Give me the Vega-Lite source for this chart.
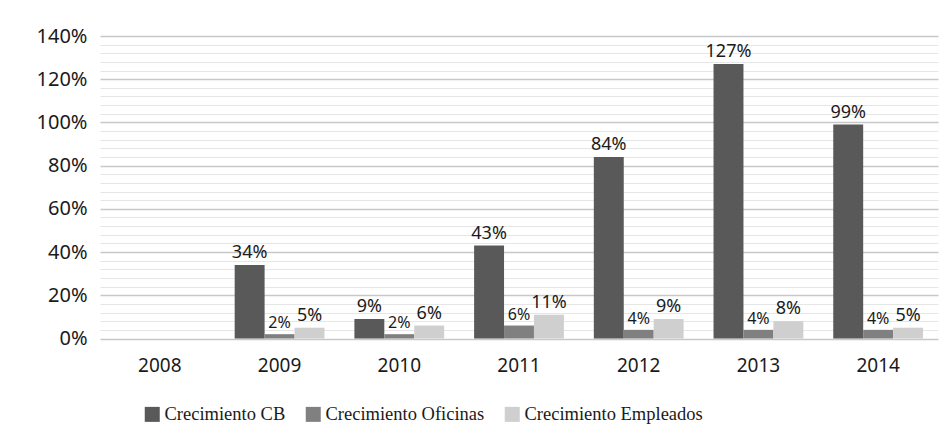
{
  "$schema": "https://vega.github.io/schema/vega-lite/v6.json",
  "width": 838,
  "height": 302.5,
  "autosize": {"type": "none"},
  "padding": {"left": 100, "top": 36, "right": 13, "bottom": 109.5},
  "background": "white",
  "config": {"view": {"stroke": null}},
  "data": {
    "values": [
      {"year": "2009", "serie": "Crecimiento CB", "value": 0.34},
      {"year": "2009", "serie": "Crecimiento Oficinas", "value": 0.02},
      {"year": "2009", "serie": "Crecimiento Empleados", "value": 0.05},
      {"year": "2010", "serie": "Crecimiento CB", "value": 0.09},
      {"year": "2010", "serie": "Crecimiento Oficinas", "value": 0.02},
      {"year": "2010", "serie": "Crecimiento Empleados", "value": 0.06},
      {"year": "2011", "serie": "Crecimiento CB", "value": 0.43},
      {"year": "2011", "serie": "Crecimiento Oficinas", "value": 0.06},
      {"year": "2011", "serie": "Crecimiento Empleados", "value": 0.11},
      {"year": "2012", "serie": "Crecimiento CB", "value": 0.84},
      {"year": "2012", "serie": "Crecimiento Oficinas", "value": 0.04},
      {"year": "2012", "serie": "Crecimiento Empleados", "value": 0.09},
      {"year": "2013", "serie": "Crecimiento CB", "value": 1.27},
      {"year": "2013", "serie": "Crecimiento Oficinas", "value": 0.04},
      {"year": "2013", "serie": "Crecimiento Empleados", "value": 0.08},
      {"year": "2014", "serie": "Crecimiento CB", "value": 0.99},
      {"year": "2014", "serie": "Crecimiento Oficinas", "value": 0.04},
      {"year": "2014", "serie": "Crecimiento Empleados", "value": 0.05}
    ]
  },
  "encoding": {
    "x": {
      "field": "year",
      "type": "nominal",
      "scale": {
        "domain": ["2008", "2009", "2010", "2011", "2012", "2013", "2014"],
        "paddingInner": 0.25,
        "paddingOuter": 0.125
      },
      "axis": {
        "title": null,
        "labelAngle": 0,
        "domain": false,
        "ticks": false,
        "labelPadding": 18,
        "labelFont": "Noto Sans",
        "labelFontSize": 19,
        "labelColor": "#1a1a1a"
      }
    },
    "xOffset": {
      "field": "serie",
      "type": "nominal",
      "scale": {
        "domain": ["Crecimiento CB", "Crecimiento Oficinas", "Crecimiento Empleados"],
        "paddingInner": 0,
        "paddingOuter": 0
      }
    },
    "y": {
      "field": "value",
      "type": "quantitative",
      "scale": {"domain": [0, 1.4], "nice": false}
    }
  },
  "layer": [
    {
      "mark": {"type": "bar"},
      "encoding": {
        "y": {
          "field": "value",
          "type": "quantitative",
          "scale": {"domain": [0, 1.4], "nice": false},
          "axis": {
            "title": null,
            "orient": "left",
            "values": [0, 0.2, 0.4, 0.6, 0.8, 1.0, 1.2, 1.4],
            "format": ".0%",
            "domain": false,
            "ticks": false,
            "labelPadding": 13,
            "labelFont": "Noto Sans",
            "labelFontSize": 20,
            "labelColor": "#1a1a1a",
            "grid": true,
            "gridColor": "#c8c8c8",
            "gridWidth": 1.5
          }
        },
        "color": {
          "field": "serie",
          "type": "nominal",
          "scale": {
            "domain": ["Crecimiento CB", "Crecimiento Oficinas", "Crecimiento Empleados"],
            "range": ["#595959", "#808080", "#cfcfcf"]
          },
          "legend": {
            "title": null,
            "orient": "none",
            "legendX": 43,
            "legendY": 369,
            "direction": "horizontal",
            "symbolType": "square",
            "symbolSize": 225,
            "symbolStrokeWidth": 0,
            "labelFont": "Liberation Serif",
            "labelFontSize": 18.5,
            "labelLimit": 0,
            "labelColor": "#1a1a1a",
            "labelOffset": 3,
            "columnPadding": 18
          }
        }
      }
    },
    {
      "mark": {"type": "text", "baseline": "bottom", "dy": -3, "font": "Noto Sans", "color": "#1a1a1a"},
      "encoding": {
        "y": {
          "field": "value",
          "type": "quantitative",
          "scale": {"domain": [0, 1.4], "nice": false},
          "axis": {
            "title": null,
            "orient": "right",
            "values": [0.04, 0.08, 0.12, 0.16, 0.24, 0.28, 0.32, 0.36, 0.44, 0.48, 0.52, 0.56, 0.64, 0.68, 0.72, 0.76, 0.84, 0.88, 0.92, 0.96, 1.04, 1.08, 1.12, 1.16, 1.24, 1.28, 1.32, 1.36],
            "labels": false,
            "domain": false,
            "ticks": false,
            "grid": true,
            "gridColor": "#e6e6e6",
            "gridWidth": 1
          }
        },
        "text": {"field": "value", "type": "quantitative", "format": ".0%"},
        "size": {
          "condition": {"test": "datum.serie === 'Crecimiento Oficinas'", "value": 16},
          "value": 18
        }
      }
    }
  ],
  "resolve": {"axis": {"y": "independent"}}
}
